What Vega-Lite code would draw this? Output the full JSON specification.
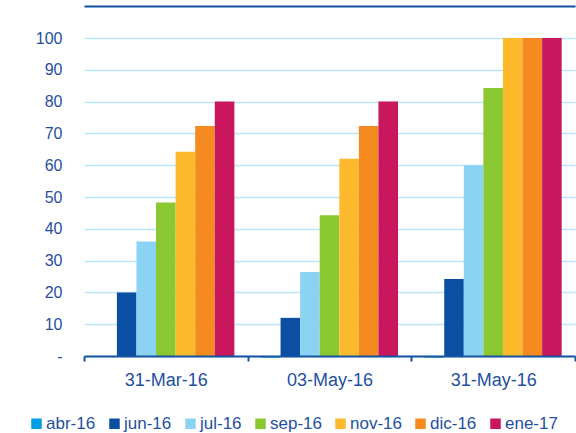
{
  "$schema": "https://vega.github.io/schema/vega-lite/v6.json",
  "width": 491,
  "height": 318,
  "autosize": {"type": "none"},
  "padding": {"left": 84, "top": 38, "right": 1, "bottom": 77},
  "background": "white",
  "config": {"view": {"stroke": null}, "font": "Liberation Sans"},
  "data": {
    "values": [
      {"fecha": "31-Mar-16", "serie": "abr-16", "valor": 0},
      {"fecha": "31-Mar-16", "serie": "jun-16", "valor": 20},
      {"fecha": "31-Mar-16", "serie": "jul-16", "valor": 36},
      {"fecha": "31-Mar-16", "serie": "sep-16", "valor": 48.3},
      {"fecha": "31-Mar-16", "serie": "nov-16", "valor": 64.2},
      {"fecha": "31-Mar-16", "serie": "dic-16", "valor": 72.3},
      {"fecha": "31-Mar-16", "serie": "ene-17", "valor": 80},
      {"fecha": "03-May-16", "serie": "abr-16", "valor": -0.5},
      {"fecha": "03-May-16", "serie": "jun-16", "valor": 12},
      {"fecha": "03-May-16", "serie": "jul-16", "valor": 26.4},
      {"fecha": "03-May-16", "serie": "sep-16", "valor": 44.3},
      {"fecha": "03-May-16", "serie": "nov-16", "valor": 62},
      {"fecha": "03-May-16", "serie": "dic-16", "valor": 72.3},
      {"fecha": "03-May-16", "serie": "ene-17", "valor": 80},
      {"fecha": "31-May-16", "serie": "abr-16", "valor": -0.5},
      {"fecha": "31-May-16", "serie": "jun-16", "valor": 24.2},
      {"fecha": "31-May-16", "serie": "jul-16", "valor": 60},
      {"fecha": "31-May-16", "serie": "sep-16", "valor": 84.3},
      {"fecha": "31-May-16", "serie": "nov-16", "valor": 100},
      {"fecha": "31-May-16", "serie": "dic-16", "valor": 100},
      {"fecha": "31-May-16", "serie": "ene-17", "valor": 100}
    ]
  },
  "resolve": {"axis": {"x": "independent"}},
  "layer": [
    {
      "mark": {"type": "bar"},
      "encoding": {
        "x": {
          "field": "fecha",
          "type": "nominal",
          "sort": ["31-Mar-16", "03-May-16", "31-May-16"],
          "scale": {"paddingInner": 0, "paddingOuter": 0},
          "axis": {
            "orient": "bottom",
            "title": null,
            "domainColor": "#1452A2",
            "domainWidth": 2,
            "tickColor": "#1452A2",
            "tickWidth": 2,
            "tickSize": 5,
            "tickBand": "extent",
            "labelFontSize": 18,
            "labelColor": "#1F4FA0",
            "labelPadding": 10,
            "labelAngle": 0,
            "zindex": 1
          }
        },
        "xOffset": {
          "field": "serie",
          "sort": ["abr-16", "jun-16", "jul-16", "sep-16", "nov-16", "dic-16", "ene-17"],
          "scale": {"paddingInner": 0, "paddingOuter": 0.68}
        },
        "y": {
          "field": "valor",
          "type": "quantitative",
          "scale": {"domain": [0, 100], "nice": false},
          "axis": {
            "title": null,
            "values": [0, 10, 20, 30, 40, 50, 60, 70, 80, 90, 100],
            "labelExpr": "datum.value == 0 ? '-\u00a0\u00a0' : datum.label",
            "domain": false,
            "ticks": false,
            "grid": true,
            "gridColor": "#BDE5F7",
            "gridWidth": 1.5,
            "labelFontSize": 16,
            "labelColor": "#1F4FA0",
            "labelPadding": 22,
            "zindex": 0
          }
        },
        "color": {
          "field": "serie",
          "type": "nominal",
          "scale": {
            "domain": ["abr-16", "jun-16", "jul-16", "sep-16", "nov-16", "dic-16", "ene-17"],
            "range": ["#009FE3", "#0B4FA3", "#8BD3F3", "#8AC731", "#FDBA2C", "#F48A20", "#C8175D"]
          },
          "legend": {
            "orient": "none",
            "direction": "horizontal",
            "legendX": -56,
            "legendY": 377,
            "padding": 0,
            "title": null,
            "symbolType": "square",
            "symbolSize": 110,
            "symbolStrokeWidth": 0,
            "symbolOpacity": 1,
            "labelFontSize": 17,
            "labelColor": "#1F4FA0",
            "labelOffset": 1,
            "columnPadding": 10
          }
        }
      }
    },
    {
      "mark": {"type": "rule", "opacity": 0},
      "encoding": {
        "x": {
          "field": "fecha",
          "type": "nominal",
          "sort": ["31-Mar-16", "03-May-16", "31-May-16"],
          "axis": {
            "orient": "top",
            "title": null,
            "offset": 32,
            "labels": false,
            "ticks": false,
            "domainColor": "#0E4FA0",
            "domainWidth": 2
          }
        }
      }
    }
  ]
}
